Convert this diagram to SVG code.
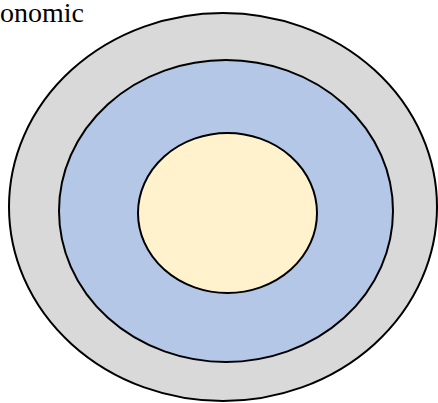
<svg xmlns="http://www.w3.org/2000/svg" width="438" height="403" viewBox="0 0 438 403">
<style>
.e{stroke:#000;stroke-width:2}
</style>
<rect width="438" height="403" fill="#fff"/>
<g id="outer"><ellipse class="e" cx="223" cy="207" rx="214" ry="194" fill="#d9d9d9"/></g>
<g id="middle"><ellipse class="e" cx="226" cy="211" rx="167" ry="151" fill="#b4c7e7"/></g>
<g id="inner"><ellipse class="e" cx="227.5" cy="213" rx="89.5" ry="80" fill="#fff2cc"/></g>
<g id="label"><text x="84" y="22" text-anchor="end" font-family="Liberation Serif, Times New Roman, DejaVu Serif, serif" font-size="28" fill="#000">Economic</text></g>
<g id="connectors"/>
</svg>
